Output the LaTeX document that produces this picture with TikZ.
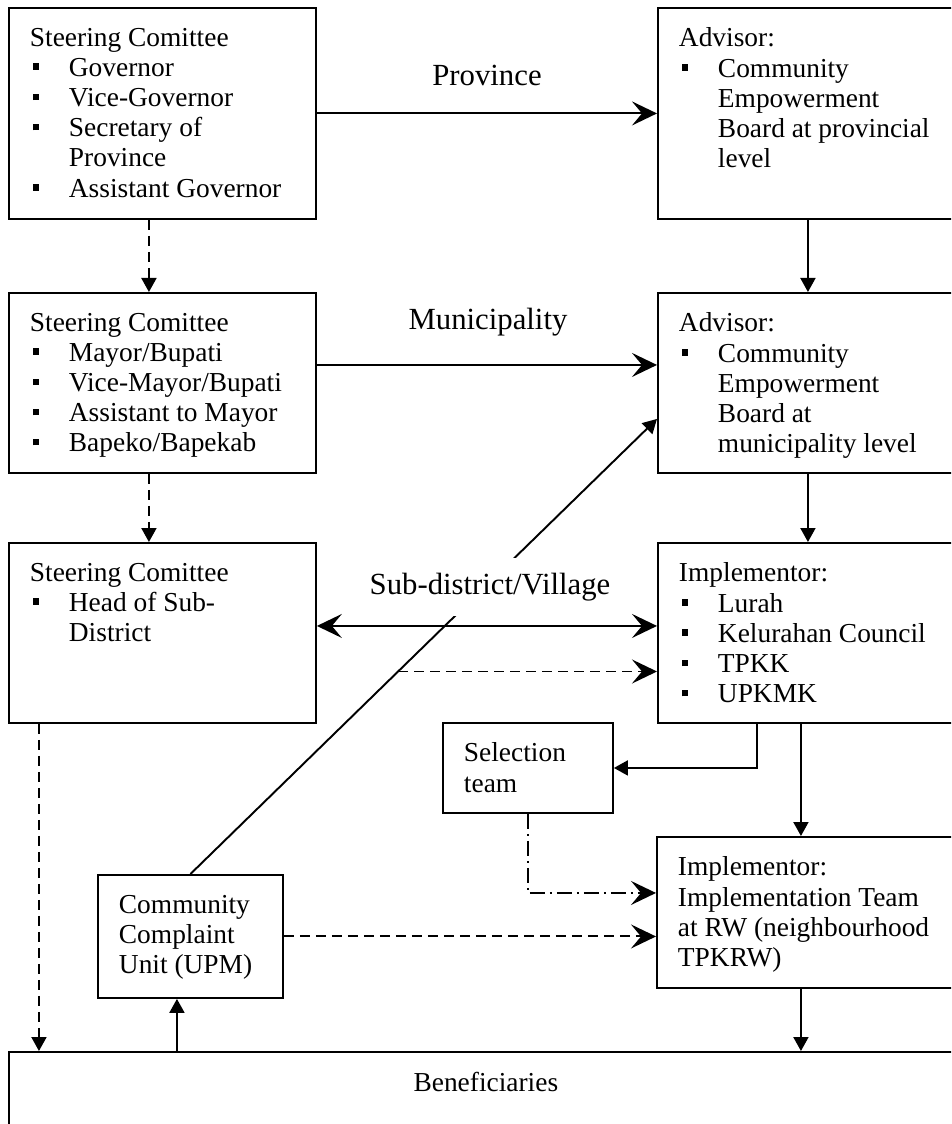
\documentclass[tikz,border=0pt]{standalone}
\usepackage{fontspec}
\setmainfont{Liberation Serif}
\usetikzlibrary{arrows.meta,calc,positioning}
\newcommand{\bul}{\makebox[.78cm][l]{\hspace{.06cm}\rule[.13cm]{.13cm}{.13cm}}}
\newcommand{\ind}{\hspace*{.78cm}}
\newcommand{\blk}[3]{\parbox[t][#1][t]{#2}{\raggedright #3}}
\begin{document}
\begin{tikzpicture}[x=.02cm,y=-.02cm,
  box/.style={draw,line width=1.1pt,anchor=north west,inner xsep=.42cm,inner ysep=.4cm,font=\fontsize{15.6}{17.2}\selectfont},
  lvl/.style={fill=white,inner xsep=.2cm,inner ysep=.3cm,font=\fontsize{17.5}{19}\selectfont},
  con/.style={line width=1.1pt},
  stl/.style={con,-{Stealth[length=.5cm,width=.48cm,inset=.2cm]}},
  tri/.style={con,-{Triangle[length=.28cm,width=.3cm]}},
  dsh/.style={dash pattern=on .2cm off .12cm},
  dsd/.style={dash pattern=on .3cm off .1cm on .04cm off .1cm}]
\useasboundingbox (0,0) rectangle (951,1124);
\clip (0,0) rectangle (951,1124);

% steering committees
\node[box] (sc1) at (8,7) {\blk{3.42cm}{5.3cm}{Steering Comittee\\ \bul Governor\\ \bul Vice-Governor\\ \bul Secretary of\\ \ind Province\\ \bul Assistant Governor}};
\node[box] (sc2) at (8,292) {\blk{2.8cm}{5.3cm}{Steering Comittee\\ \bul Mayor/Bupati\\ \bul Vice-Mayor/Bupati\\ \bul Assistant to Mayor\\ \bul Bapeko/Bapekab}};
\node[box] (sc3) at (8,542) {\blk{2.8cm}{5.3cm}{Steering Comittee\\ \bul Head of Sub-\\ \ind District}};

% advisors and implementors
\node[box] (adv1) at (657,7) {\blk{3.42cm}{5.16cm}{Advisor:\\ \bul Community\\ \ind Empowerment\\ \ind Board at provincial\\ \ind level}};
\node[box] (adv2) at (657,292) {\blk{2.8cm}{5.16cm}{Advisor:\\ \bul Community\\ \ind Empowerment\\ \ind Board at\\ \ind municipality level}};
\node[box] (impl) at (657,542) {\blk{2.8cm}{5.16cm}{Implementor:\\ \bul Lurah\\ \bul Kelurahan Council\\ \bul TPKK\\ \bul UPKMK}};
\node[box] (rw) at (656,836) {\blk{2.22cm}{5.18cm}{Implementor:\\ Implementation Team\\ at RW (neighbourhood\\ TPKRW)}};

% small boxes
\node[box] (sel) at (442,722) {\blk{1cm}{2.56cm}{Selection\\ team}};
\node[box] (upm) at (97,874) {\blk{1.66cm}{2.86cm}{Community\\ Complaint\\ Unit (UPM)}};
\node[box] (ben) at (8,1051) {\blk{1.38cm}{18.24cm}{\centering Beneficiaries}};

% complaint line, cut by the label
\coordinate (dg) at ([yshift=-.72cm]adv2.west);
\draw[tri] (upm.north) -- (dg);
\coordinate (br) at ($(upm.north)!0.445!(dg)$);

\node[lvl] (prov) at (487,75) {Province};
\node[lvl] (mun) at (488,322) {Municipality};
\node[lvl] (sub) at (490,587) {Sub-district/Village};

% horizontal links
\draw[stl] (sc1.east) -- (adv1.west);
\draw[stl] ([yshift=.36cm]sc2.east) -- ([yshift=.36cm]adv2.west);
\draw[con,{Stealth[length=.5cm,width=.48cm,inset=.2cm]}-{Stealth[length=.5cm,width=.48cm,inset=.2cm]}] ([yshift=.14cm]sc3.east) -- ([yshift=.14cm]impl.west);
\draw[stl,dsh] (br) -- (br -| impl.west);
\draw[stl,dsh] (upm.east) -- (upm.east -| rw.west);
\draw[stl,dsd] (sel.south) |- ([yshift=.39cm]rw.west);

% vertical links
\draw[tri,dsh] ([xshift=-.27cm]sc1.south) -- ([xshift=-.27cm]sc2.north);
\draw[tri,dsh] ([xshift=-.27cm]sc2.south) -- ([xshift=-.27cm]sc3.north);
\draw[tri] (adv1.south) -- (adv2.north);
\draw[tri] (adv2.south) -- (impl.north);
\coordinate (d1) at ([xshift=-.14cm]impl.south);
\draw[tri] (d1) -- (d1 |- rw.north);
\coordinate (d2) at ([xshift=-.13cm]rw.south);
\draw[tri] (d2) -- (d2 |- ben.north);
\coordinate (d3) at ([xshift=-1.02cm]impl.south);
\draw[tri] (d3) |- (sel.east);
\coordinate (d4) at ([xshift=-.27cm]upm.south);
\draw[tri] (d4 |- ben.north) -- (d4);
\coordinate (d5) at ([xshift=-2.47cm]sc3.south);
\draw[tri,dsh] (d5) -- (d5 |- ben.north);
\end{tikzpicture}
\end{document}
